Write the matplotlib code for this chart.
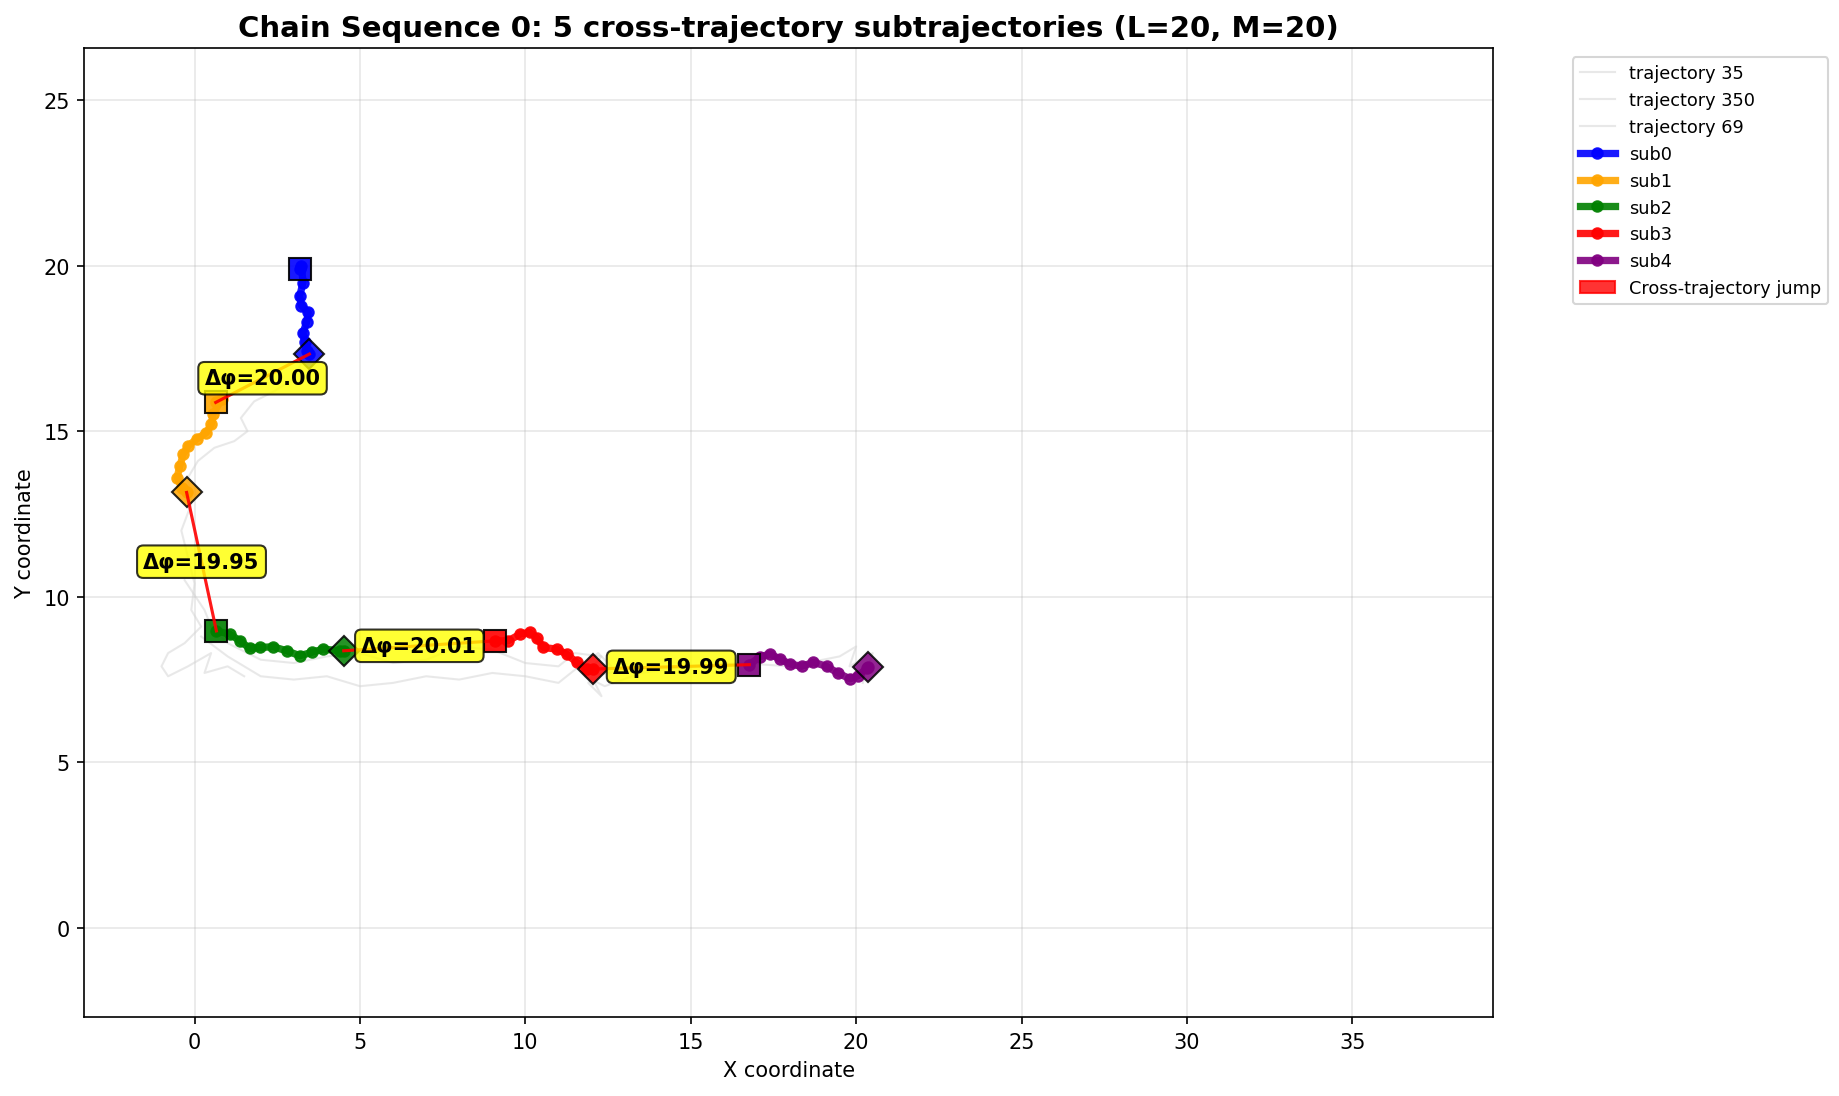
import matplotlib
matplotlib.use('Agg')
import matplotlib.pyplot as plt
from matplotlib.patches import Patch

# Фоновые траектории (серые)
traj_names = ['trajectory 35', 'trajectory 350', 'trajectory 69']
traj_x = [
    [3.3, 3.0, 2.4, 1.8, 1.4, 1.6, 1.2, 0.6, 0.1, -0.2, -0.1, -0.4, -0.2, 0.0, -0.1, 0.2, -0.3,
     -0.8, -1.0, -0.8, -0.2, 0.5, 0.3, 1.0, 1.5],
    [-0.3, 0.3, 0.5, 1.0, 2.0, 3.0, 4.0, 5.0, 6.0, 7.0, 8.0, 9.0, 10.0, 11.0, 11.5, 12.3, 11.8,
     12.4, 13.5, 15.0, 16.5, 18.0, 19.5, 20.0, 19.8, 20.5, 20.2],
    [0.2, 1.0, 2.0, 3.0, 4.0, 5.0, 6.0, 7.0, 8.0, 9.0, 10.0, 11.0, 11.5, 12.2, 12.6, 11.9, 12.3,
     12.0, 13.0],
]
traj_y = [
    [17.2, 16.6, 16.2, 15.9, 15.4, 15.0, 14.7, 14.5, 14.1, 13.6, 12.8, 12.0, 11.2, 10.4, 9.6, 9.1,
     8.6, 8.3, 7.9, 7.6, 7.9, 8.3, 7.7, 7.9, 7.6],
    [10.5, 9.6, 9.1, 8.6, 8.1, 8.0, 8.2, 8.3, 8.0, 8.1, 8.5, 8.4, 8.0, 7.9, 8.3, 8.2, 7.6, 7.3,
     7.7, 7.9, 8.0, 7.9, 8.2, 8.5, 7.9, 8.3, 7.4],
    [8.8, 8.2, 7.6, 7.5, 7.6, 7.3, 7.4, 7.6, 7.5, 7.7, 7.6, 7.4, 7.8, 8.3, 7.9, 7.4, 7.0, 7.6, 7.8],
]

# Подтраектории
sub_names = ['sub0', 'sub1', 'sub2', 'sub3', 'sub4']
sub_colors = ['blue', 'orange', 'green', 'red', 'purple']
sub_x = [
    [3.18, 3.23, 3.28, 3.18, 3.23, 3.44, 3.39, 3.28, 3.33, 3.39, 3.47],
    [0.64, 0.82, 0.56, 0.51, 0.36, 0.06, -0.19, -0.34, -0.44, -0.53, -0.39, -0.24],
    [0.66, 1.07, 1.37, 1.67, 1.97, 2.38, 2.78, 3.18, 3.54, 3.89, 4.39, 4.51],
    [9.08, 9.48, 9.84, 10.14, 10.34, 10.54, 10.95, 11.25, 11.55, 11.85, 12.05],
    [16.77, 17.09, 17.40, 17.70, 18.00, 18.35, 18.71, 19.11, 19.46, 19.82, 20.07, 20.32, 20.37],
]
sub_y = [
    [19.89, 19.99, 19.49, 19.09, 18.79, 18.59, 18.29, 17.98, 17.68, 17.43, 17.33],
    [15.87, 15.97, 15.52, 15.21, 14.96, 14.76, 14.56, 14.31, 13.96, 13.60, 13.30, 13.15],
    [8.97, 8.87, 8.67, 8.44, 8.47, 8.49, 8.37, 8.22, 8.32, 8.42, 8.37, 8.37],
    [8.67, 8.67, 8.87, 8.93, 8.77, 8.47, 8.42, 8.27, 8.02, 7.82, 7.82],
    [7.95, 8.19, 8.27, 8.12, 7.97, 7.90, 8.02, 7.90, 7.69, 7.52, 7.62, 7.84, 7.87],
]

# Разности фаз на переходах между траекториями
jump_labels = ['Δφ=20.00', 'Δφ=19.95', 'Δφ=20.01', 'Δφ=19.99']

fig = plt.figure(figsize=(12.26, 7.313), dpi=150)
ax = fig.add_axes([0.0459, 0.072, 0.7661, 0.883])

for name, xs, ys in zip(traj_names, traj_x, traj_y):
    ax.plot(xs, ys, color='lightgray', alpha=0.5, linewidth=1, label=name)

for name, color, xs, ys in zip(sub_names, sub_colors, sub_x, sub_y):
    ax.plot(xs, ys, color=color, linewidth=3.5, marker='o', markersize=5, alpha=0.9, label=name)
    ax.plot(xs[0], ys[0], marker='s', markersize=11, color=color, markeredgecolor='black',
            markeredgewidth=1, alpha=0.9, linestyle='none')
    ax.plot(xs[-1], ys[-1], marker='D', markersize=10, color=color, markeredgecolor='black',
            markeredgewidth=1, alpha=0.85, linestyle='none')

# Переходы
for i, label in enumerate(jump_labels):
    x0, y0 = sub_x[i][-1], sub_y[i][-1]
    x1, y1 = sub_x[i + 1][0], sub_y[i + 1][0]
    ax.plot([x0, x1], [y0, y1], color='red', linewidth=1.5, alpha=0.9)
    ax.text((x0 + x1) / 2, (y0 + y1) / 2, label, ha='center', va='center',
            fontsize=10, fontweight='bold',
            bbox=dict(boxstyle='round,pad=0.3', facecolor='yellow', edgecolor='black', alpha=0.8))

ax.set_xlim(-3.33, 39.26)
ax.set_ylim(-2.69, 26.56)
ax.set_xlabel('X coordinate', fontsize=10)
ax.set_ylabel('Y coordinate', fontsize=10)
ax.set_title('Chain Sequence 0: 5 cross-trajectory subtrajectories (L=20, M=20)',
             fontsize=14, fontweight='bold')
ax.grid(True, alpha=0.3)

handles, labels = ax.get_legend_handles_labels()
handles.append(Patch(facecolor='red', edgecolor='red', alpha=0.8))
labels.append('Cross-trajectory jump')
ax.legend(handles, labels, bbox_to_anchor=(1.05, 1), loc='upper left', fontsize=8.5)

fig.savefig('out.png', dpi=150)
